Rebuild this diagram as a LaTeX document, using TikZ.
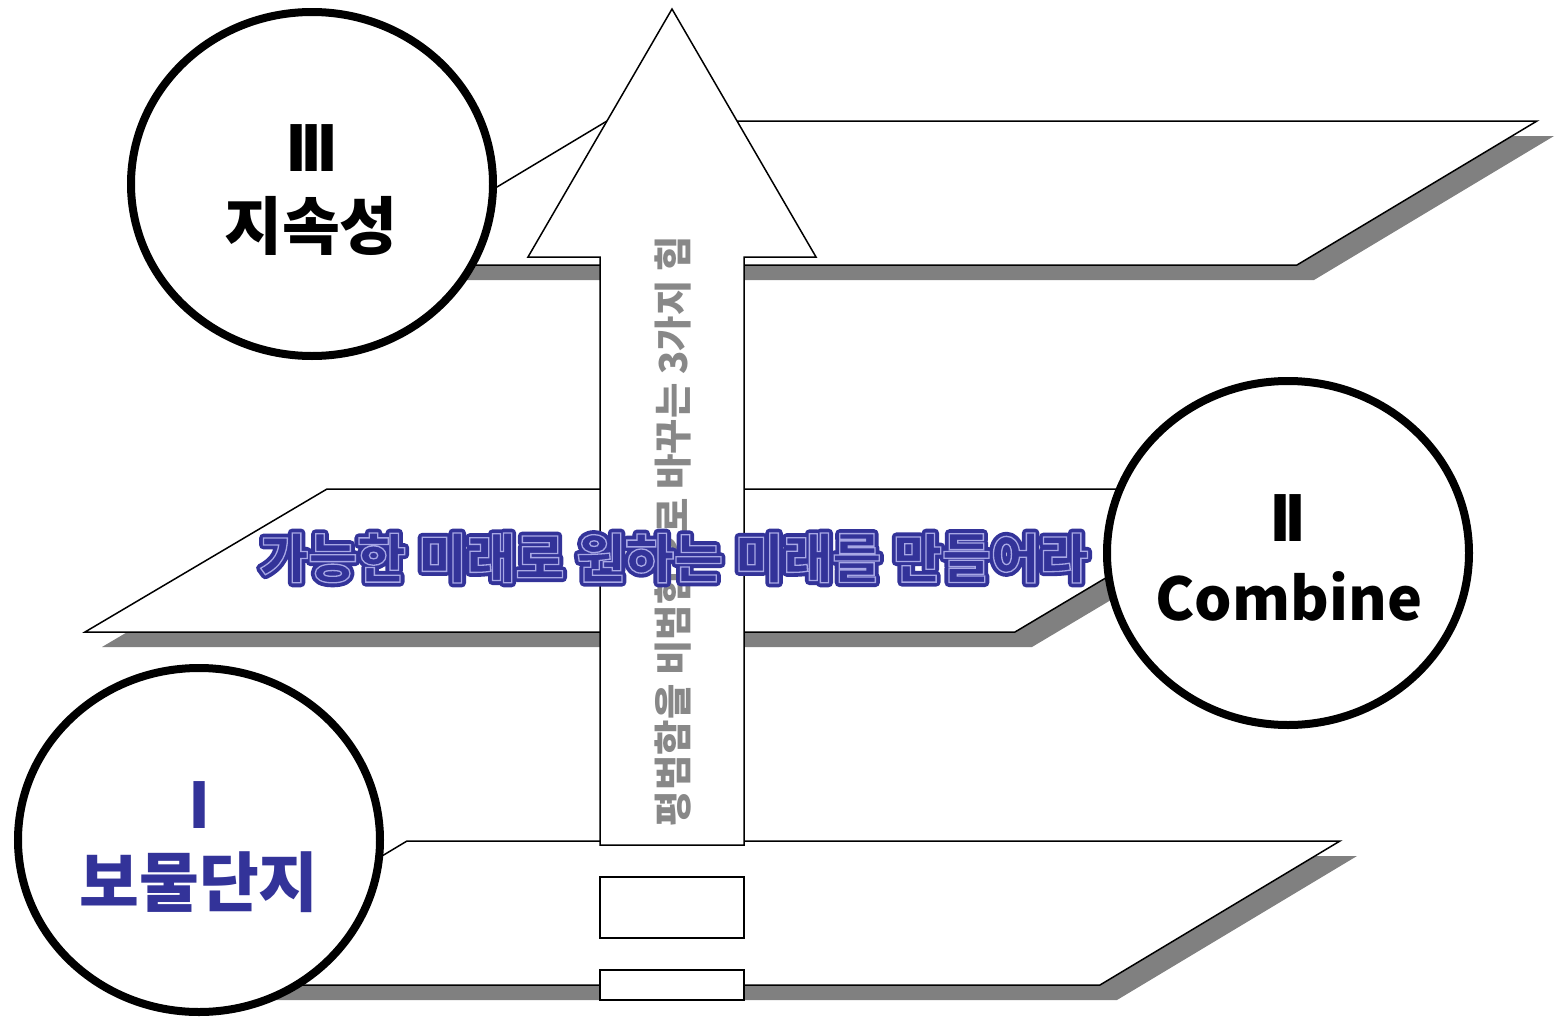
\documentclass[tikz,border=0pt]{standalone}
\usepackage{fontspec}
\setmainfont{Noto Sans CJK KR}
\usetikzlibrary{shapes.geometric}
\definecolor{krblue}{HTML}{333399}
\definecolor{krlav}{HTML}{A0A0E0}
\definecolor{shade}{HTML}{808080}
\definecolor{txtgray}{HTML}{888888}
\newcommand{\thickout}[1]{\special{pdf:literal direct 2 Tr 9 w 1 J 1 j}#1\special{pdf:literal direct 0 Tr 1 w}}
\newcommand{\thinout}[1]{\special{pdf:literal direct 2 Tr 1.3 w 0.66 0.66 0.9 RG}#1\special{pdf:literal direct 0 Tr 1 w}}
\tikzset{
  plane/.style={fill=white,draw=black,line width=1.5pt,line join=miter},
  planeshadow/.style={fill=shade,draw=none},
  bubble/.style={ellipse,draw=black,fill=white,line width=8pt,minimum width=362pt,minimum height=344pt,inner sep=0pt},
  bigtxt/.style={font=\bfseries\fontsize{63}{63}\selectfont,inner sep=0pt},
  arrowbody/.style={fill=white,draw=black,line width=1.5pt},
  boxpart/.style={draw=black,fill=white,line width=1.5pt,minimum width=144pt,inner sep=0pt},
}
\newcommand{\numIII}{I\kern-7pt I\kern-7pt I}
\newcommand{\numII}{I\kern-7pt I}
\begin{document}
\begin{tikzpicture}[x=1pt,y=-1pt]
\useasboundingbox (0,0) rectangle (1559,1020);
% top plane
\fill[planeshadow] (624,136) -- (1554,136) -- (1314,280) -- (384,280) -- cycle;
\draw[plane] (607,121) -- (1537,121) -- (1297,265) -- (367,265) -- cycle;
% middle plane
\fill[planeshadow] (344,504) -- (1272,504) -- (1032,647) -- (102,647) -- cycle;
\draw[plane] (327,489) -- (1255,489) -- (1015,632) -- (85,632) -- cycle;
% bottom plane
\fill[planeshadow] (424,856) -- (1357,856) -- (1117,1000) -- (184,1000) -- cycle;
\draw[plane] (407,841) -- (1340,841) -- (1100,985) -- (167,985) -- cycle;
% arrow
\draw[arrowbody] (672,9) -- (816,257) -- (744,257) -- (744,845) -- (600,845) -- (600,257) -- (528,257) -- cycle;
\node[boxpart,minimum height=61pt] (r1) at (672,907.5) {};
\node[boxpart,minimum height=30pt] (r2) at (672,985) {};
% circles
\node[bubble] (c3) at (312,184) {};
\node[bubble] (c2) at (1288,553) {};
\node[bubble] (c1) at (199,840) {};
\node[bigtxt] (t3a) at (312,148) {\numIII};
\node[bigtxt] (t3b) at (311,226) {지속성};
\node[bigtxt] (t2a) at (1288,518) {\numII};
\node[bigtxt,font=\bfseries\fontsize{59}{59}\selectfont] (t2b) at (1289,596) {Combine};
\node[bigtxt,text=krblue] (t1a) at (200,805) {I};
\node[bigtxt,text=krblue,font=\bfseries\fontsize{65}{65}\selectfont] (t1b) at (199,882) {보물단지};
% vertical text
\node[rotate=90,text=txtgray,font=\bfseries\fontsize{38.5}{38.5}\selectfont,inner sep=0pt] (vt) at (673,531) {평범함을 비범함으로 바꾸는 3가지 힘};
% central text
\node[text=krblue,font=\bfseries\fontsize{53}{53}\selectfont,inner sep=0pt] (ct) at (674,558) {\thickout{가능한 미래로 원하는 미래를 만들어라}};
\node[text=krblue,font=\bfseries\fontsize{53}{53}\selectfont,inner sep=0pt] (ct2) at (674,558) {\thinout{가능한 미래로 원하는 미래를 만들어라}};
\end{tikzpicture}
\end{document}
